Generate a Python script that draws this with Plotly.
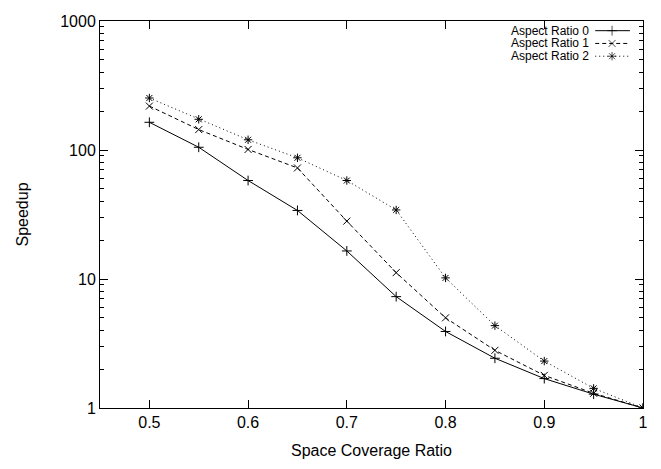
import plotly.graph_objects as go

# data
coverage = [0.5, 0.55, 0.6, 0.65, 0.7, 0.75, 0.8, 0.85, 0.9, 0.95, 1.0]
ratio0 = [164, 105, 58, 34, 16.5, 7.3, 3.92, 2.43, 1.69, 1.28, 1.0]
ratio1 = [219, 144, 101, 72.6, 28.1, 11.2, 5.0, 2.8, 1.79, 1.3, 1.0]
ratio2 = [253, 173, 120, 87, 58, 34.3, 10.2, 4.35, 2.31, 1.42, 1.0]

names = ["Aspect Ratio 0", "Aspect Ratio 1", "Aspect Ratio 2"]
series = [ratio0, ratio1, ratio2]

_FONT = "Liberation Sans, Arial, sans-serif"
_INK = "#000000"

STYLES = [
    dict(dash="solid", symbol="cross-thin-open"),
    dict(dash="4px,3px", symbol="x-thin-open"),
    dict(dash="1px,3px", symbol="asterisk-open"),
]

fig = go.Figure()

for name, ys, st in zip(names, series, STYLES):
    fig.add_trace(go.Scatter(
        x=coverage, y=ys, name=name,
        mode="lines+markers",
        line=dict(color=_INK, width=1, dash=st["dash"]),
        marker=dict(symbol=st["symbol"], size=7, color=_INK,
                    line=dict(color=_INK, width=1)),
        showlegend=False,
    ))

# gnuplot-style key: text right-aligned, line sample to the right
key_text_x = 0.903
key_x0, key_xm, key_x1 = 0.912, 0.943, 0.976
key_rows = [0.975, 0.942, 0.909]

for name, st, ky in zip(names, STYLES, key_rows):
    fig.add_trace(go.Scatter(
        x=[key_x0, key_xm, key_x1], y=[ky, ky, ky],
        xaxis="x2", yaxis="y2",
        mode="lines+markers",
        line=dict(color=_INK, width=1, dash=st["dash"]),
        marker=dict(symbol=st["symbol"], size=[0, 7, 0], color=_INK,
                    line=dict(color=_INK, width=1)),
        showlegend=False, hoverinfo="skip",
    ))
    fig.add_annotation(
        x=key_text_x, y=ky, xref="paper", yref="paper",
        text=name, showarrow=False, xanchor="right", yanchor="middle",
        borderpad=0,
        font=dict(family=_FONT, size=12, color=_INK),
    )

# page body keeps an 8px margin, so the figure is sized to fit inside the window
fig.update_layout(
    width=645, height=453,
    margin=dict(l=92, r=5, t=6, b=52),
    paper_bgcolor="white", plot_bgcolor="white",
    font=dict(family=_FONT, size=16, color=_INK),
    xaxis=dict(
        range=[0.45, 1.0], dtick=0.1, tick0=0.5,
        ticks="inside", ticklen=8, tickcolor=_INK,
        showline=True, linecolor=_INK, linewidth=1, mirror="ticks",
        showgrid=False, zeroline=False, ticklabeloverflow="allow",
        title=dict(text="Space Coverage Ratio", standoff=14,
                   font=dict(size=16)),
    ),
    yaxis=dict(
        type="log", range=[0, 3],
        tickvals=[1, 10, 100, 1000], ticktext=["1", "10", "100", "1000"],
        ticks="inside", ticklen=8, tickcolor=_INK,
        minor=dict(ticks="inside", ticklen=4, tickcolor=_INK,
                   dtick="D1", showgrid=False),
        showline=True, linecolor=_INK, linewidth=1, mirror="ticks",
        showgrid=False, zeroline=False, ticklabeloverflow="allow",
        title=dict(text="Speedup", standoff=27, font=dict(size=16)),
    ),
    xaxis2=dict(overlaying="x", range=[0, 1], visible=False),
    yaxis2=dict(overlaying="y", range=[0, 1], visible=False),
)

fig.write_html("out.html")
